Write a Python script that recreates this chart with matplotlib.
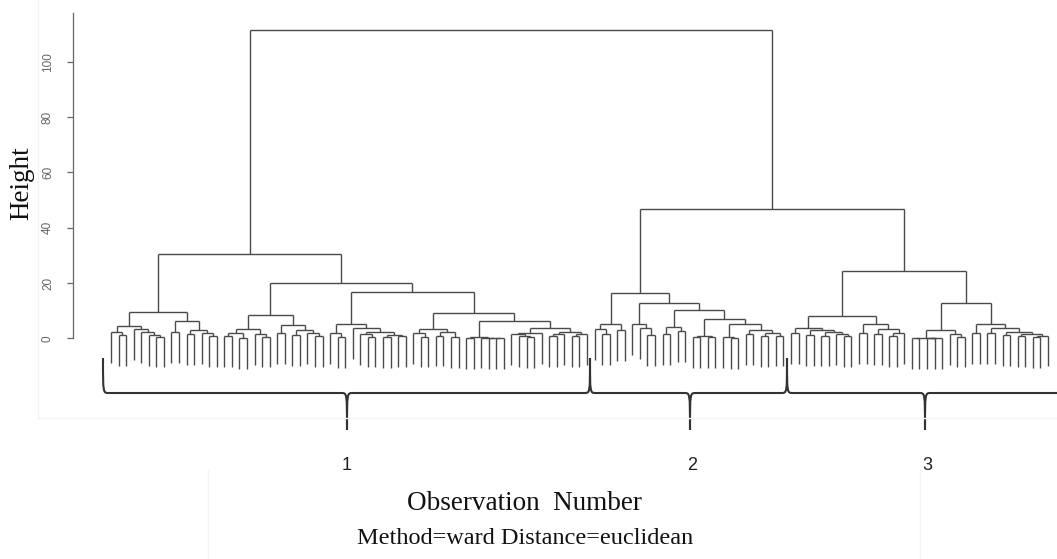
import matplotlib
matplotlib.use("Agg")
import matplotlib.pyplot as plt
from matplotlib.path import Path
from matplotlib.patches import PathPatch

# ---------------- data: dendrogram as nested [height, left, right]; leaves = observation order
L1 = [9.6,
      [4.6, [2.4, 0, [1.2, 1, 2]], [3.3, 3, [2.1, 4, [1.2, 5, [0.6, 6, 7]]]]],
      [6.1, [2.3, 8, 9], [3.1, [1.5, 10, 11], [1.8, 12, [0.8, 13, 14]]]]]
L2a = [8.5,
       [3.2, [2.0, [0.8, 15, 16], [0.1, 17, 18]], [1.5, 19, [0.6, 20, 21]]],
       [4.7, [1.8, 22, 23], [3.0, [1.2, 24, 25], [1.8, 26, [0.9, 27, 28]]]]]
L2b1 = [5.3, [2.0, 29, [0.5, 30, 31]],
        [3.6, 32, [2.2, [1.5, 33, [0.6, 34, 35]], [1.3, [0.5, 36, 37], [0.7, 38, 39]]]]]
L2b2 = [9.2,
        [3.3, [1.8, 40, [0.6, 41, 42]], [2.2, [1.0, 43, 44], [0.4, 45, 46]]],
        [6.2, [0.3, [0.1, 47, 48], [0.25, 49, [0.2, 50, [0.1, 51, 52]]]],
         [3.8, [2.0, [1.5, 53, [0.9, 54, [0.5, 55, 56]]], 57],
          [2.4, [1.6, [0.9, 58, 59], 60], [1.4, [0.8, 61, 62], 63]]]]]
cluster1 = [30.5, L1, [20.0, L2a, [16.8, L2b1, L2b2]]]

C2a = [5.3, [3.2, 64, [1.5, 65, 66]], [3.0, 67, 68]]
C2b = [12.8, [5.0, 69, [3.7, 70, [1.2, 71, 72]]],
       [10.1, [4.0, [1.5, 73, 74], [2.5, 75, 76]],
        [7.1, [0.8, [0.3, 77, 78], [0.5, 79, 80]],
         [5.3, [0.3, 81, [0.1, 82, 83]],
          [3.1, [1.5, 84, 85], [2.0, [0.8, 86, 87], [1.0, 88, 89]]]]]]]
cluster2 = [16.2, C2a, C2b]

C3a = [7.9,
       [3.9, [2.0, 90, 91], [3.0, [1.2, 92, 93], [2.3, [1.0, 94, 95], [1.5, 96, [0.7, 97, 98]]]]],
       [5.3, [2.0, 99, 100], [3.5, [1.5, 101, 102], [2.0, [0.8, 103, 104], 105]]]]
C3b = [12.9,
       [3.1, [0.2, [0.05, 106, 107], [0.15, [0.05, 108, 109], 110]], [1.5, 111, [0.6, 112, 113]]],
       [5.3, [2.0, 114, 115],
        [3.9, [1.8, 116, 117],
         [2.4, [1.2, 118, 119], [1.7, [0.8, 120, 121], [1.0, [0.5, 122, 123], 124]]]]]]
cluster3 = [24.3, C3a, C3b]

root = [111.5, cluster1, [46.8, cluster2, cluster3]]

cluster_labels = ["1", "2", "3"]
y_ticks = [0, 20, 40, 60, 80, 100]
hang = 0.1 * 111.5

# ---------------- figure
W, H = 1057, 559
fig = plt.figure(figsize=(W / 100, H / 100), dpi=100)
fig.patch.set_facecolor("white")

def px2x(px):
    return (px - 111.0) / 7.556

def py2y(py):
    return (338.3 - py) / 2.766

# faint frame of the pasted plot image
FC = "#f3f3f3"
fig.add_artist(plt.Line2D([38 / W, 38 / W], [1, 1 - 418 / H], color=FC, lw=1,
                          transform=fig.transFigure))
fig.add_artist(plt.Line2D([38 / W, 1], [1 - 418 / H, 1 - 418 / H], color=FC, lw=1,
                          transform=fig.transFigure))
fig.add_artist(plt.Line2D([208 / W, 208 / W], [1 - 470 / H, 0], color=FC, lw=1,
                          transform=fig.transFigure))
fig.add_artist(plt.Line2D([920 / W, 920 / W], [1 - 470 / H, 0], color=FC, lw=1,
                          transform=fig.transFigure))

ax_left = 72.7
ax = fig.add_axes([ax_left / W, 0, 1 - ax_left / W, 1])
ax.set_xlim(px2x(ax_left), px2x(W))
ax.set_ylim(py2y(H), py2y(0))
ax.patch.set_alpha(0)

LC = "#4a4a4a"
LW = 1.0

def draw(node):
    if isinstance(node, int):
        return float(node), None
    h, left, right = node
    xl, hl = draw(left)
    xr, hr = draw(right)
    ax.plot([xl, xr], [h, h], color=LC, lw=LW, solid_capstyle="butt", clip_on=False)
    for x, hc in ((xl, hl), (xr, hr)):
        bottom = h - hang if hc is None else hc
        ax.plot([x, x], [bottom, h], color=LC, lw=LW, solid_capstyle="butt", clip_on=False)
    return (xl + xr) / 2.0, h

draw(root)

# axis
for s in ("top", "right", "bottom"):
    ax.spines[s].set_visible(False)
ax.spines["left"].set_bounds(0, 117.5)
ax.spines["left"].set_color("#666666")
ax.spines["left"].set_linewidth(0.9)
ax.set_xticks([])
ax.set_yticks(y_ticks)
ax.set_yticklabels([str(t) for t in y_ticks], rotation=90, va="center",
                   fontsize=8.5, color="#666666", family="Liberation Sans")
ax.tick_params(axis="y", length=4.5, width=0.9, color="#666666", pad=9)

# braces under the three clusters
brace_ends = [px2x(103), px2x(590), px2x(787), px2x(1062)]
brace_tips = [px2x(347), px2x(690), px2x(925)]
y_top, y_line, y_tip = py2y(358), py2y(393), py2y(430)
d = 0.75
for i in range(3):
    xa, xm, xb = brace_ends[i], brace_tips[i], brace_ends[i + 1]
    verts = [(xa, y_top), (xa, y_line), (xa, y_line), (xa + d, y_line),
             (xm - d, y_line),
             (xm, y_line), (xm, y_line), (xm, y_tip),
             (xm, y_line), (xm, y_line), (xm + d, y_line),
             (xb - d, y_line),
             (xb, y_line), (xb, y_line), (xb, y_top)]
    codes = [Path.MOVETO, Path.CURVE4, Path.CURVE4, Path.CURVE4,
             Path.LINETO,
             Path.CURVE4, Path.CURVE4, Path.CURVE4,
             Path.CURVE4, Path.CURVE4, Path.CURVE4,
             Path.LINETO,
             Path.CURVE4, Path.CURVE4, Path.CURVE4]
    ax.add_patch(PathPatch(Path(verts, codes), fill=False, edgecolor="#333333",
                           lw=1.5, clip_on=False))

label_px = [347, 692, 927]
for lab, px in zip(cluster_labels, label_px):
    fig.text(px / W, 1 - 465 / H, lab, ha="center", va="center",
             fontsize=13, family="Liberation Sans", color="#222222")

fig.text(22 / W, 1 - 183 / H, "Height", rotation=90, ha="center", va="center",
         fontsize=19.5, family="Liberation Serif", color="#111111")
fig.text(524 / W, 1 - 503 / H, "Observation  Number", ha="center", va="center",
         fontsize=19.5, family="Liberation Serif", color="#111111")
fig.text(525 / W, 1 - 538 / H, "Method=ward Distance=euclidean", ha="center", va="center",
         fontsize=17.5, family="Liberation Serif", color="#111111")

fig.savefig("out.png", dpi=100)
